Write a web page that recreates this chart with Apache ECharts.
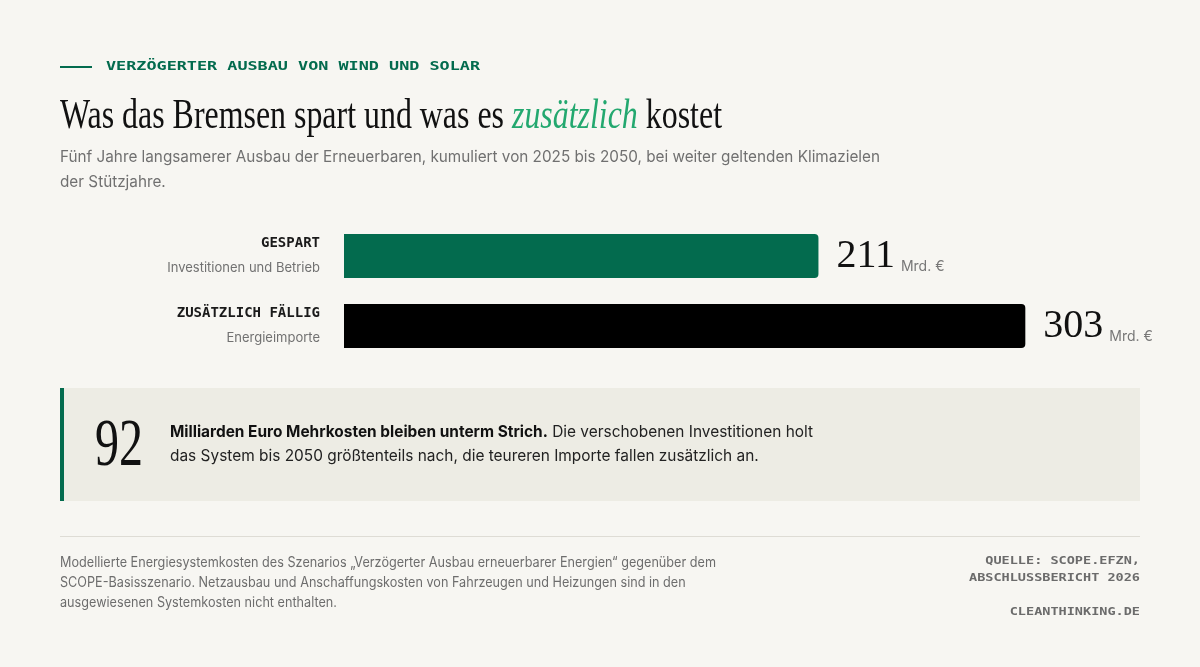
<!DOCTYPE html>
<html><head><meta charset="utf-8">
<script src="https://cdn.jsdelivr.net/npm/echarts@6/dist/echarts.min.js"></script>
<style>html,body{margin:0;padding:0;background:#F7F6F2;}#c{width:1200px;height:667px;}</style>
</head><body><div id="c"></div>
<script>
// ---- data ----
const categories = ['GESPART', 'ZUSÄTZLICH FÄLLIG'];
const subLabels = ['Investitionen und Betrieb', 'Energieimporte'];
const values = [211, 303];
const unit = 'Mrd. €';
const difference = 92;
const kicker = 'VERZÖGERTER AUSBAU VON WIND UND SOLAR';
const titleParts = ['Was das Bremsen spart und was es ', 'zusätzlich', ' kostet'];
const subtitleLines = ['Fünf Jahre langsamerer Ausbau der Erneuerbaren, kumuliert von 2025 bis 2050, bei weiter geltenden Klimazielen', 'der Stützjahre.'];
const calloutBold = 'Milliarden Euro Mehrkosten bleiben unterm Strich.';
const calloutRest = [' Die verschobenen Investitionen holt', 'das System bis 2050 größtenteils nach, die teureren Importe fallen zusätzlich an.'];
const noteLines = ['Modellierte Energiesystemkosten des Szenarios „Verzögerter Ausbau erneuerbarer Energien“ gegenüber dem', 'SCOPE-Basisszenario. Netzausbau und Anschaffungskosten von Fahrzeugen und Heizungen sind in den', 'ausgewiesenen Systemkosten nicht enthalten.'];
const sourceLines = ['QUELLE: SCOPE.EFZN,', 'ABSCHLUSSBERICHT 2026'];
const site = 'CLEANTHINKING.DE';

// ---- style ----
const GREEN = '#036B4E';
const GREEN_LIGHT = '#23A86F';
const SERIF = '"Liberation Serif", serif';
const SANS = 'Inter, "Noto Sans", sans-serif';
const MONO = '"DejaVu Sans Mono", monospace';
const barColors = [GREEN, '#000000'];

const ctx = document.createElement('canvas').getContext('2d');
function w(text, font) { ctx.font = font; return ctx.measureText(text).width; }

const titleFont = '43px ' + SERIF, titleFontI = 'italic 43px ' + SERIF;
const titleW = w(titleParts[0], titleFont) + w(titleParts[1], titleFontI) + w(titleParts[2], titleFont);
const titleScale = 662 / titleW;
const kickerScale = 374 / w(kicker, 'bold 13px ' + MONO);
const subScale = 820 / w(subtitleLines[0], '16px Inter');
const callScale = 643 / (w(calloutBold, 'bold 16px Inter') + w(calloutRest[0], '16px Inter'));
const noteScale = 656 / w(noteLines[0], '14px Inter');
const numScale = 48 / w(String(difference), '68px ' + SERIF);
const srcScale = 171 / w(sourceLines[1], 'bold 11px ' + MONO);

const chart = echarts.init(document.getElementById('c'));
chart.setOption({
  backgroundColor: '#F7F6F2',
  animation: false,
  grid: { left: 344, right: 60, top: 221, bottom: 306, containLabel: false },
  xAxis: { type: 'value', min: 0, max: 354, show: false },
  yAxis: {
    type: 'category', data: categories, inverse: true,
    axisLine: { show: false }, axisTick: { show: false }, splitLine: { show: false },
    axisLabel: {
      margin: 24, align: 'right',
      formatter: (v, i) => '{t|' + v + '}\n{s|' + subLabels[i] + '}',
      rich: {
        t: { fontFamily: MONO, fontWeight: 'bold', fontSize: 14, color: '#1a1a1a', lineHeight: 25, align: 'right' },
        s: { fontFamily: SANS, fontSize: 13, color: '#717171', lineHeight: 25, align: 'right' }
      }
    }
  },
  series: [{
    type: 'bar', barWidth: 44,
    data: values.map((v, i) => ({ value: v, itemStyle: { color: barColors[i], borderRadius: [0, 4, 4, 0] } })),
    label: {
      show: true, position: 'right', distance: 18,
      formatter: p => '{v|' + p.value + '}{u| ' + unit + '}',
      rich: {
        v: { fontFamily: SERIF, fontSize: 40, color: '#111', lineHeight: 40, verticalAlign: 'bottom' },
        u: { fontFamily: SANS, fontSize: 14, color: '#777', lineHeight: 20, verticalAlign: 'bottom', padding: [0, 0, 2, 2] }
      }
    }
  }],
  graphic: [
    { type: 'rect', shape: { x: 60, y: 66, width: 32, height: 2 }, style: { fill: GREEN } },
    { type: 'text', x: 106, y: 67, scaleX: kickerScale,
      style: { text: kicker, fontFamily: MONO, fontWeight: 'bold', fontSize: 13, fill: GREEN, verticalAlign: 'middle' } },
    { type: 'text', x: 60, y: 117, scaleX: titleScale,
      style: {
        text: '{a|' + titleParts[0] + '}{b|' + titleParts[1] + '}{a|' + titleParts[2] + '}',
        verticalAlign: 'middle',
        rich: {
          a: { fontFamily: SERIF, fontSize: 43, fill: '#111' },
          b: { fontFamily: SERIF, fontSize: 43, fontStyle: 'italic', fill: GREEN_LIGHT }
        }
      } },
    { type: 'text', x: 60, y: 145, scaleX: subScale,
      style: { text: subtitleLines.join('\n'), fontFamily: SANS, fontSize: 16, lineHeight: 25, fill: '#707070', verticalAlign: 'top' } },
    { type: 'rect', shape: { x: 60, y: 388, width: 1080, height: 113 }, style: { fill: '#EDECE4' } },
    { type: 'rect', shape: { x: 60, y: 388, width: 4, height: 113 }, style: { fill: GREEN } },
    { type: 'text', x: 95, y: 447, scaleX: numScale,
      style: { text: String(difference), fontFamily: SERIF, fontSize: 68, fill: '#111', verticalAlign: 'middle' } },
    { type: 'text', x: 170, y: 444, scaleX: callScale,
      style: {
        text: '{b|' + calloutBold + '}{r|' + calloutRest[0] + '}\n{r|' + calloutRest[1] + '}',
        verticalAlign: 'middle',
        rich: {
          b: { fontFamily: SANS, fontSize: 16, fontWeight: 'bold', fill: '#111', lineHeight: 24 },
          r: { fontFamily: SANS, fontSize: 16, fill: '#222', lineHeight: 24 }
        }
      } },
    { type: 'rect', shape: { x: 60, y: 536, width: 1080, height: 1 }, style: { fill: '#DEDCD5' } },
    { type: 'text', x: 60, y: 553, scaleX: noteScale,
      style: { text: noteLines.join('\n'), fontFamily: SANS, fontSize: 14, lineHeight: 20, fill: '#6d6d6d', verticalAlign: 'top' } },
    { type: 'text', x: 1140, y: 553, scaleX: srcScale,
      style: { text: sourceLines.join('\n'), fontFamily: MONO, fontWeight: 'bold', fontSize: 11, lineHeight: 17, fill: '#6b6b6b', align: 'right', verticalAlign: 'top' } },
    { type: 'text', x: 1140, y: 612, scaleX: srcScale,
      style: { text: site, fontFamily: MONO, fontWeight: 'bold', fontSize: 11, fill: '#6b6b6b', align: 'right', verticalAlign: 'middle' } }
  ]
});
</script>
</body></html>
